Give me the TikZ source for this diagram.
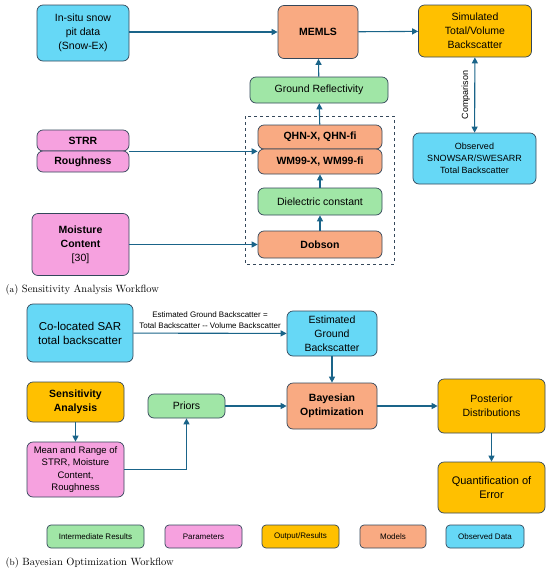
\documentclass[tikz,border=0pt]{standalone}
\usepackage{fontspec}
\newfontfamily\boxfont{Liberation Sans}
\usetikzlibrary{arrows.meta}
\definecolor{obsblue}{HTML}{66D8F6}
\definecolor{parpink}{HTML}{F6A1DF}
\definecolor{modsalmon}{HTML}{F9AA82}
\definecolor{intgreen}{HTML}{A0E6A6}
\definecolor{outgold}{HTML}{FFC000}
\definecolor{edgec}{HTML}{34475A}
\definecolor{arrc}{HTML}{1A6489}
\newcommand\bxf{\boxfont\fontsize{10.5}{14}\selectfont}
\newcommand\smf{\boxfont\fontsize{9}{12}\selectfont}
\newcommand\tnf{\boxfont\fontsize{8}{10.5}\selectfont}

\begin{document}
\begin{tikzpicture}[x=1pt,y=-1pt,semithick,
  box/.style={draw=edgec,rounded corners=6pt,line width=0.7pt,align=center,font=\bxf,inner sep=1pt},
  flow/.style={draw=arrc,line width=1.1pt,-{Triangle[length=6pt,width=6pt]}},
  legbox/.style={box,font=\tnf,minimum height=23pt,rounded corners=4pt}]
\useasboundingbox (0,0) rectangle (550,574);
% (a) sensitivity analysis
\node[box,fill=obsblue,minimum width=92,minimum height=56] (pit) at (83,33) {In-situ snow\\pit data\\(Snow-Ex)};
\node[box,fill=modsalmon,minimum width=80,minimum height=53,font=\bxf\bfseries] (memls) at (318,32) {MEMLS};
\node[box,fill=outgold,minimum width=113,minimum height=52] (sim) at (475,31) {Simulated\\Total/Volume\\Backscatter};
\node[box,fill=intgreen,minimum width=138,minimum height=26] (grefl) at (319,90) {Ground Reflectivity};
\node[box,fill=modsalmon,minimum width=124,minimum height=24,font=\bxf\bfseries] (qhn) at (320,137) {QHN-X, QHN-fi};
\node[box,fill=modsalmon,minimum width=124,minimum height=25,font=\bxf\bfseries] (wm) at (320,161.5) {WM99-X, WM99-fi};
\node[box,fill=intgreen,minimum width=124,minimum height=27] (diel) at (320,201.5) {Dielectric constant};
\node[box,fill=modsalmon,minimum width=124,minimum height=27,font=\bxf\bfseries] (dobson) at (320,244.5) {Dobson};
\node[box,fill=parpink,minimum width=92,minimum height=21,font=\bxf\bfseries] (strr) at (83,140.5) {STRR};
\node[box,fill=parpink,minimum width=92,minimum height=21,font=\bxf\bfseries] (rough) at (83,161.5) {Roughness};
\node[box,fill=parpink,minimum width=97,minimum height=62] (moist) at (80.5,244.5) {\textbf{Moisture}\\\textbf{Content}\\{}[30]};
\node[box,fill=obsblue,minimum width=123,minimum height=51,font=\smf] (obs) at (474.5,158.5) {Observed\\SNOWSAR/SWESARR\\Total Backscatter};
\draw[edgec,dashed,line width=0.8pt] (245,116) rectangle (394,264);

\draw[flow] (pit.east |- memls.west) -- (memls.west);
\draw[flow] (memls) -- (sim);
\draw[flow] (grefl) -- (memls);
\draw[flow] (qhn) -- (grefl);
\draw[flow] (diel) -- (wm);
\draw[flow] (dobson) -- (diel);
\draw[flow] (strr.south east) -- (strr.south east -| qhn.west);
\draw[flow] (moist) -- (dobson);
\draw[flow,{Triangle[length=6pt,width=6pt]}-{Triangle[length=6pt,width=6pt]}] (sim) -- node[midway,xshift=-9pt,rotate=90,font=\smf] (cmp) {Comparison} (obs);
\node[anchor=west,font=\fontsize{10.5}{12}\selectfont] (capa) at (2,290) {({\small a}) Sensitivity Analysis Workflow};

% (b) bayesian optimization
\node[box,fill=obsblue,minimum width=106,minimum height=58,font=\boxfont\fontsize{11.5}{14}\selectfont] (sar) at (80,333) {Co-located SAR\\total backscatter};
\node[box,fill=obsblue,minimum width=90,minimum height=45] (egb) at (332,333.5) {Estimated\\Ground\\Backscatter};
\node[box,fill=modsalmon,minimum width=90,minimum height=46,font=\bxf\bfseries] (bayes) at (332,406) {Bayesian\\Optimization};
\node[box,fill=outgold,minimum width=107,minimum height=54] (post) at (491.5,406) {Posterior\\Distributions};
\node[box,fill=outgold,minimum width=107,minimum height=51,font=\boxfont\fontsize{11}{14}\selectfont] (quant) at (491.5,487.5) {Quantification of\\Error};
\node[box,fill=outgold,minimum width=97,minimum height=40,font=\bxf\bfseries] (sens) at (75.5,402) {Sensitivity\\Analysis};
\node[box,fill=parpink,minimum width=97,minimum height=55,font=\boxfont\fontsize{9.5}{12.5}\selectfont] (mean) at (75.5,469.5) {Mean and Range of\\STRR, Moisture\\Content,\\Roughness};
\node[box,fill=intgreen,minimum width=77,minimum height=24] (priors) at (186.5,406) {Priors};

\draw[flow] (sar) -- node[above,font=\tnf,align=center,yshift=1pt] (eqn) {Estimated Ground Backscatter =\\Total Backscatter -- Volume Backscatter} (egb);
\draw[flow] (egb) -- (bayes);
\draw[flow] (bayes) -- (post);
\draw[flow] (post) -- (quant);
\draw[flow] (sens) -- (mean);
\draw[flow] (mean.east) -| (priors.south);
\draw[flow] (priors) -- (bayes);

% legend
\node[legbox,fill=intgreen,minimum width=97] (lg1) at (95.5,536.5) {Intermediate Results};
\node[legbox,fill=parpink,minimum width=77] (lg2) at (203.5,536.5) {Parameters};
\node[legbox,fill=outgold,minimum width=77] (lg3) at (300.5,536.5) {Output/Results};
\node[legbox,fill=modsalmon,minimum width=66] (lg4) at (393,536.5) {Models};
\node[legbox,fill=obsblue,minimum width=78] (lg5) at (485,536.5) {Observed Data};
\node[anchor=west,font=\fontsize{10.5}{12}\selectfont] (capb) at (2,563) {({\small b}) Bayesian Optimization Workflow};
\end{tikzpicture}
\end{document}
